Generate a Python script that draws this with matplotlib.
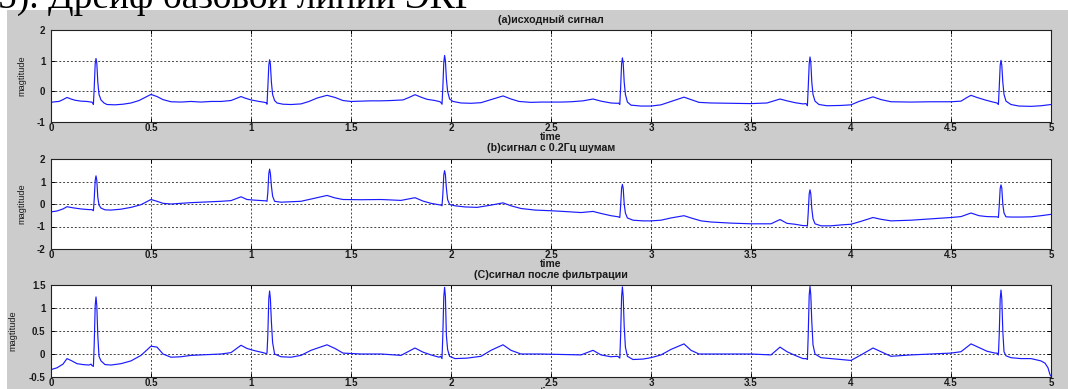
import matplotlib
matplotlib.use("Agg")
import matplotlib.pyplot as plt
from matplotlib.patches import Rectangle

# ---------------- data: (time, magnitude) ----------------
pts_a = [
    (0, -0.36), (0.02, -0.34), (0.04, -0.33), (0.06, -0.27), (0.08, -0.2), (0.1, -0.25), (0.12, -0.29),
    (0.15, -0.32), (0.18, -0.33), (0.2, -0.35),
    (0.205, -0.35), (0.212, -0.43), (0.216, 0.1), (0.221, 0.9), (0.225, 1.07), (0.229, 0.92), (0.234, 0.3),
    (0.24, -0.1), (0.25, -0.28),
    (0.265, -0.38), (0.28, -0.43), (0.32, -0.44), (0.36, -0.42), (0.4, -0.38), (0.44, -0.3), (0.47, -0.2),
    (0.5, -0.1), (0.53, -0.17), (0.56, -0.27), (0.6, -0.34), (0.65, -0.35), (0.7, -0.33), (0.75, -0.35),
    (0.8, -0.33), (0.85, -0.33), (0.9, -0.3), (0.93, -0.22), (0.95, -0.17), (0.97, -0.22), (1.0, -0.28),
    (1.04, -0.33), (1.06, -0.35),
    (1.075, -0.37), (1.08, -0.42), (1.084, 0.1), (1.089, 0.85), (1.093, 1.03), (1.097, 0.88), (1.102, 0.3),
    (1.108, -0.1), (1.118, -0.3),
    (1.13, -0.38), (1.16, -0.42), (1.2, -0.43), (1.25, -0.41), (1.29, -0.33), (1.33, -0.22), (1.38, -0.13),
    (1.42, -0.2), (1.46, -0.3), (1.5, -0.33), (1.55, -0.32), (1.6, -0.31), (1.65, -0.31), (1.7, -0.3),
    (1.76, -0.28), (1.79, -0.2), (1.82, -0.11), (1.85, -0.19), (1.88, -0.26), (1.92, -0.3), (1.94, -0.33),
    (1.948, -0.35), (1.955, -0.42), (1.959, 0.1), (1.964, 0.95), (1.968, 1.17), (1.972, 1.0), (1.977, 0.4),
    (1.983, 0.0), (1.993, -0.25),
    (2.01, -0.33), (2.05, -0.38), (2.1, -0.39), (2.15, -0.37), (2.2, -0.27), (2.26, -0.15), (2.3, -0.25),
    (2.34, -0.33), (2.4, -0.36), (2.45, -0.35), (2.5, -0.35), (2.55, -0.35), (2.6, -0.34), (2.66, -0.31),
    (2.71, -0.25), (2.75, -0.32), (2.8, -0.38), (2.83, -0.39),
    (2.837, -0.38), (2.844, -0.43), (2.848, 0.1), (2.853, 0.9), (2.857, 1.09), (2.861, 0.92), (2.866, 0.3),
    (2.872, -0.1), (2.882, -0.35),
    (2.9, -0.45), (2.95, -0.48), (3.0, -0.48), (3.05, -0.44), (3.1, -0.33), (3.165, -0.19), (3.2, -0.27),
    (3.24, -0.36), (3.3, -0.38), (3.4, -0.39), (3.5, -0.4), (3.58, -0.38), (3.62, -0.3), (3.645, -0.25),
    (3.68, -0.31), (3.72, -0.37), (3.76, -0.41),
    (3.775, -0.4), (3.782, -0.47), (3.786, 0.1), (3.791, 0.9), (3.795, 1.12), (3.799, 0.95), (3.804, 0.3),
    (3.81, -0.1), (3.82, -0.32),
    (3.84, -0.43), (3.88, -0.47), (3.95, -0.46), (4.0, -0.44), (4.04, -0.33), (4.11, -0.18), (4.15, -0.27),
    (4.2, -0.34), (4.3, -0.35), (4.4, -0.34), (4.5, -0.34), (4.55, -0.32), (4.58, -0.2), (4.6, -0.13),
    (4.63, -0.2), (4.67, -0.28), (4.71, -0.35),
    (4.73, -0.38), (4.737, -0.43), (4.741, 0.1), (4.746, 0.85), (4.75, 1.01), (4.754, 0.85), (4.759, 0.3),
    (4.765, -0.1), (4.775, -0.32),
    (4.8, -0.43), (4.84, -0.48), (4.9, -0.49), (4.95, -0.47), (5.0, -0.43)]

pts_b = [
    (0, -0.35), (0.03, -0.31), (0.06, -0.22), (0.08, -0.12), (0.11, -0.17), (0.15, -0.22), (0.19, -0.25),
    (0.205, -0.25), (0.212, -0.3), (0.216, 0.2), (0.221, 1.05), (0.225, 1.25), (0.229, 1.05), (0.234, 0.3),
    (0.24, -0.05), (0.25, -0.18),
    (0.27, -0.26), (0.3, -0.27), (0.35, -0.23), (0.4, -0.15), (0.45, -0.03), (0.5, 0.2), (0.53, 0.12),
    (0.56, 0.03), (0.6, 0.0), (0.65, 0.03), (0.7, 0.06), (0.75, 0.08), (0.8, 0.1), (0.85, 0.12), (0.9, 0.15),
    (0.95, 0.32), (0.98, 0.2), (1.02, 0.17), (1.06, 0.15),
    (1.075, 0.14), (1.08, 0.12), (1.084, 0.5), (1.089, 1.35), (1.093, 1.55), (1.097, 1.35), (1.102, 0.8),
    (1.108, 0.35), (1.118, 0.12),
    (1.15, 0.08), (1.2, 0.1), (1.25, 0.12), (1.3, 0.22), (1.38, 0.38), (1.42, 0.27), (1.46, 0.2),
    (1.55, 0.19), (1.65, 0.2), (1.75, 0.16), (1.82, 0.28), (1.86, 0.13), (1.9, 0.03), (1.94, -0.03),
    (1.95, -0.05), (1.955, -0.08), (1.959, 0.4), (1.964, 1.3), (1.968, 1.48), (1.972, 1.3), (1.977, 0.7),
    (1.983, 0.2), (1.993, -0.02),
    (2.02, -0.08), (2.07, -0.13), (2.13, -0.15), (2.2, -0.05), (2.26, 0.05), (2.3, -0.08), (2.35, -0.2),
    (2.42, -0.27), (2.5, -0.3), (2.58, -0.34), (2.65, -0.38), (2.71, -0.33), (2.75, -0.42), (2.8, -0.52),
    (2.83, -0.56),
    (2.837, -0.57), (2.844, -0.6), (2.848, -0.1), (2.853, 0.7), (2.857, 0.87), (2.861, 0.7), (2.866, 0.0),
    (2.872, -0.4), (2.882, -0.62),
    (2.91, -0.72), (2.96, -0.75), (3.0, -0.75), (3.05, -0.72), (3.1, -0.62), (3.165, -0.52), (3.2, -0.62),
    (3.25, -0.75), (3.3, -0.8), (3.4, -0.85), (3.5, -0.88), (3.6, -0.88), (3.645, -0.69), (3.68, -0.86),
    (3.72, -0.9), (3.76, -0.96),
    (3.775, -0.96), (3.782, -0.98), (3.786, -0.4), (3.791, 0.45), (3.795, 0.63), (3.799, 0.45),
    (3.804, -0.2), (3.81, -0.65), (3.82, -0.88),
    (3.85, -0.97), (3.9, -0.97), (3.95, -0.93), (4.0, -0.9), (4.05, -0.77), (4.11, -0.6), (4.15, -0.68),
    (4.2, -0.75), (4.3, -0.72), (4.4, -0.66), (4.5, -0.6), (4.55, -0.56), (4.6, -0.4), (4.64, -0.52),
    (4.68, -0.56), (4.72, -0.57),
    (4.73, -0.57), (4.737, -0.6), (4.741, -0.1), (4.746, 0.7), (4.75, 0.85), (4.754, 0.7), (4.759, 0.0),
    (4.765, -0.4), (4.775, -0.57),
    (4.8, -0.58), (4.85, -0.58), (4.9, -0.57), (4.95, -0.52), (5.0, -0.46)]

pts_c = [
    (0, -0.34), (0.03, -0.3), (0.06, -0.22), (0.08, -0.1), (0.1, -0.14), (0.13, -0.21), (0.16, -0.23),
    (0.19, -0.24),
    (0.2, -0.22), (0.205, -0.25), (0.212, -0.27), (0.216, 0.2), (0.221, 1.05), (0.225, 1.24), (0.229, 1.05),
    (0.234, 0.4), (0.24, -0.05), (0.25, -0.15),
    (0.27, -0.23), (0.3, -0.24), (0.35, -0.21), (0.4, -0.15), (0.45, -0.03), (0.5, 0.17), (0.53, 0.15),
    (0.56, 0.0), (0.6, -0.07), (0.65, -0.06), (0.7, -0.03), (0.75, -0.02), (0.8, -0.01), (0.85, 0.0),
    (0.9, 0.03), (0.95, 0.19), (0.98, 0.12), (1.02, 0.07), (1.06, 0.03),
    (1.075, 0.01), (1.08, 0.02), (1.084, 0.4), (1.089, 1.2), (1.093, 1.37), (1.097, 1.2), (1.102, 0.7),
    (1.108, 0.25), (1.118, 0.0),
    (1.15, -0.06), (1.2, -0.07), (1.25, -0.03), (1.3, 0.08), (1.38, 0.2), (1.42, 0.12), (1.46, 0.02),
    (1.55, 0.0), (1.65, 0.0), (1.75, -0.03), (1.82, 0.13), (1.86, 0.04), (1.9, -0.02), (1.94, -0.07),
    (1.948, -0.05), (1.955, -0.1), (1.959, 0.4), (1.964, 1.25), (1.968, 1.45), (1.972, 1.25), (1.977, 0.4),
    (1.983, 0.1), (1.993, -0.05),
    (2.02, -0.1), (2.08, -0.09), (2.15, -0.05), (2.2, 0.08), (2.26, 0.2), (2.3, 0.08), (2.35, 0.0),
    (2.45, 0.0), (2.55, -0.01), (2.65, -0.02), (2.71, 0.08), (2.75, -0.02), (2.8, -0.06), (2.83, -0.05),
    (2.837, -0.06), (2.844, -0.09), (2.848, 0.4), (2.853, 1.25), (2.857, 1.46), (2.861, 1.25), (2.866, 0.6),
    (2.872, 0.15), (2.882, -0.05),
    (2.91, -0.12), (2.96, -0.11), (3.0, -0.08), (3.05, -0.02), (3.1, 0.1), (3.165, 0.22), (3.2, 0.08),
    (3.24, 0.0), (3.3, 0.0), (3.4, 0.0), (3.5, 0.0), (3.6, -0.02), (3.645, 0.15), (3.68, 0.05), (3.72, -0.03),
    (3.76, -0.1),
    (3.775, -0.1), (3.782, -0.12), (3.786, 0.4), (3.791, 1.28), (3.795, 1.47), (3.799, 1.28), (3.804, 0.7),
    (3.81, 0.2), (3.82, 0.0),
    (3.85, -0.08), (3.9, -0.1), (3.95, -0.12), (4.0, -0.14), (4.05, -0.02), (4.11, 0.13), (4.15, 0.05),
    (4.2, -0.05), (4.3, -0.02), (4.4, 0.0), (4.5, 0.02), (4.55, 0.05), (4.6, 0.22), (4.64, 0.14),
    (4.68, 0.06), (4.72, 0.02),
    (4.73, 0.02), (4.737, -0.02), (4.741, 0.4), (4.746, 1.2), (4.75, 1.39), (4.754, 1.2), (4.759, 0.5),
    (4.765, 0.05), (4.775, -0.04),
    (4.8, -0.08), (4.85, -0.1), (4.9, -0.1), (4.95, -0.15), (4.97, -0.2), (4.985, -0.3), (4.995, -0.45),
    (5.0, -0.48)]

titles = ["(a)исходный сигнал", "(b)сигнал с 0.2Гц шумам", "(C)сигнал после фильтрации"]
ylims = [(-1, 2), (-2, 2), (-0.5, 1.5)]
yticks = [[-1, 0, 1, 2], [-2, -1, 0, 1, 2], [-0.5, 0, 0.5, 1, 1.5]]
ytick_labels = [["-1", "0", "1", "2"], ["-2", "-1", "0", "1", "2"], ["-0.5", "0", "0.5", "1", "1.5"]]
xticks = [0, 0.5, 1, 1.5, 2, 2.5, 3, 3.5, 4, 4.5, 5]
xtick_labels = ["0", "0.5", "1", "1.5", "2", "2.5", "3", "3.5", "4", "4.5", "5"]
header = "5). Дрейф базовой линии ЭКГ"

# ---------------- figure ----------------
W, H = 1068, 389
fig = plt.figure(figsize=(W / 100, H / 100), dpi=100, facecolor="white")
bg = Rectangle((7 / W, 0), 1 - 7 / W, 1 - 10 / H, transform=fig.transFigure,
               facecolor="#cccccc", edgecolor="none", zorder=-10)
fig.add_artist(bg)

fig.text(-2 / W, 1 - 8 / H, header, family="Liberation Serif", fontsize=27,
         va="baseline", ha="left", color="black", zorder=-5)

# axes boxes in pixels (top, bottom), title centre, ylabel centre x
boxes = [(30, 122), (159, 249), (285, 377)]
title_cy = [20, 148, 275]
ylabel_cx = [21.5, 21.5, 12.5]
series = [pts_a, pts_b, pts_c]
txtc = "#1a1a1a"
tickfont = dict(family="Liberation Sans", fontsize=7, fontweight="bold")
L, AW = 51, 1000

for i, ((top, bot), pts) in enumerate(zip(boxes, series)):
    tt = [p[0] for p in pts]
    yy = [p[1] for p in pts]
    h = bot - top
    ax = fig.add_axes([L / W, 1 - bot / H, AW / W, h / H])
    ax.set_zorder(1)
    ax.set_facecolor("white")
    ax.plot(tt, yy, color=(0.1, 0.1, 1.0), lw=0.85)
    ax.set_xlim(0, 5)
    ax.set_ylim(*ylims[i])
    ax.set_xticks(xticks)
    ax.set_xticklabels(xtick_labels, **tickfont, color=txtc)
    ax.set_yticks(yticks[i])
    ax.set_yticklabels(ytick_labels[i], **tickfont, color=txtc)
    ax.grid(True, color="#444444", linestyle=(0, (2, 2)), lw=0.7)
    ax.tick_params(direction="in", length=3, width=0.7, top=True, right=True)
    ax.tick_params(axis="x", pad=0.5)
    ax.tick_params(axis="y", pad=4)
    for s in ax.spines.values():
        s.set_linewidth(0.8)
        s.set_color("#222222")
    ax.set_title(titles[i], family="Liberation Sans", fontsize=7.7, fontweight="bold",
                 color=txtc, y=1 + (top - title_cy[i]) / h, va="center", pad=0)
    ax.set_xlabel("time", family="Liberation Sans", fontsize=7.5, fontweight="bold", color=txtc)
    ax.xaxis.set_label_coords(0.5, -15 / h)
    ax.xaxis.label.set_va("center")
    ax.set_ylabel("magtitude", family="Liberation Sans", fontsize=6.6, color=txtc)
    ax.yaxis.set_label_coords((ylabel_cx[i] - L) / AW, 0.5)
    ax.yaxis.label.set_va("center")

fig.savefig("out.png", dpi=100, facecolor="white")
